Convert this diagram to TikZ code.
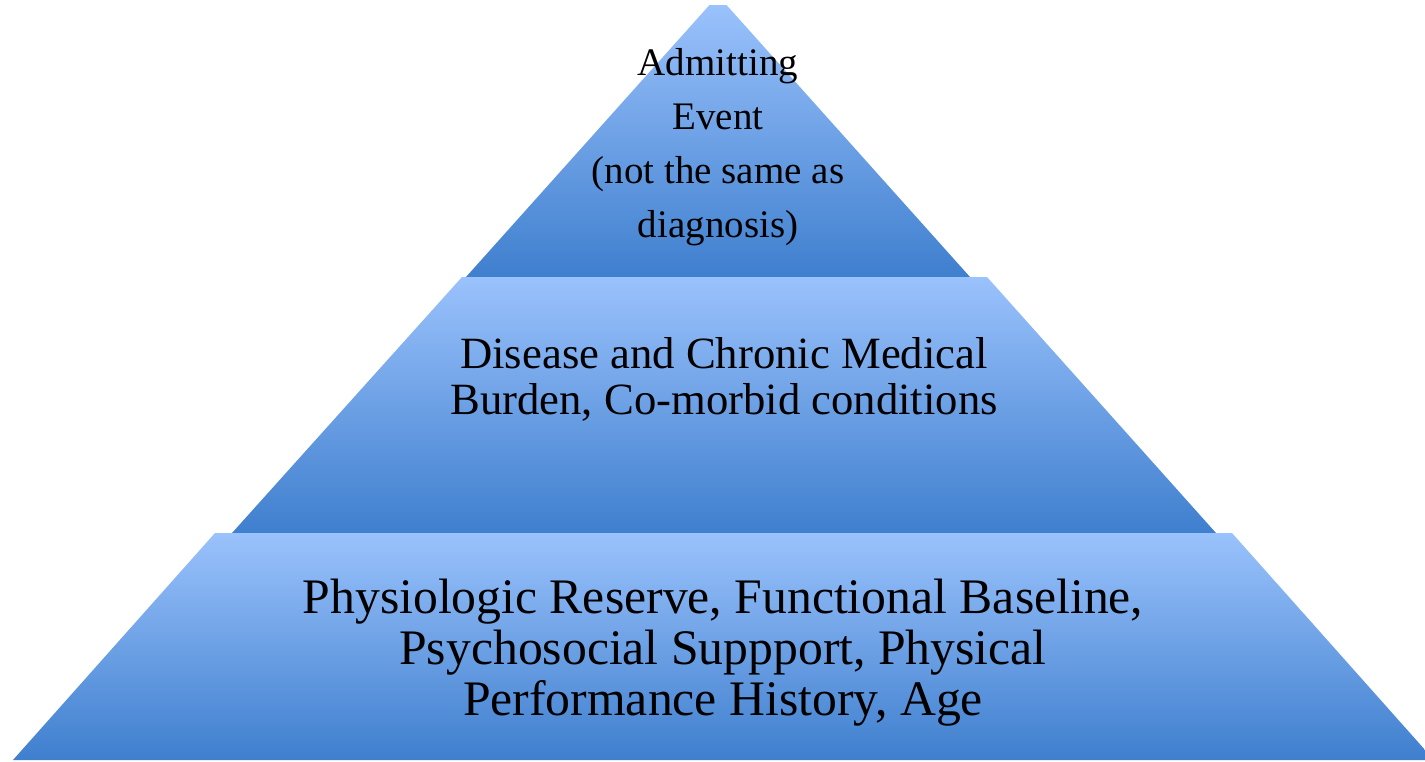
\documentclass[tikz,border=0pt]{standalone}
\usepackage{fontspec}
\setmainfont{Liberation Serif}
\definecolor{tierTop}{HTML}{9AC2FC}
\definecolor{tierBot}{HTML}{3F7FCE}
\begin{document}
\begin{tikzpicture}[x=1pt,y=-1pt,
  tier/.style={top color=tierTop,bottom color=tierBot,draw=none},
  label/.style={align=center,text=black,inner sep=0pt}]
\useasboundingbox (0,0) rectangle (1425,761);
\begin{scope}
\clip (0,0) rectangle (1425,761);
% three stacked tiers of the pyramid
\path[tier] (709.5,5) -- (726.5,5) -- (970,277) -- (466,277) -- cycle;
\path[tier] (462,277) -- (987,277) -- (1216,533) -- (232,533) -- cycle;
\path[tier] (215,533) -- (1232,533) -- (1434,760) -- (13,760) -- cycle;
\end{scope}
\node[label,font=\fontsize{39}{54}\selectfont] (apex) at (718,147)
  {Admitting\\Event\\(not the same as\\diagnosis)};
\node[label,font=\fontsize{44.7}{46}\selectfont] (middle) at (724,379)
  {Disease and Chronic Medical\\Burden, Co-morbid conditions};
\node[label,font=\fontsize{49.7}{51}\selectfont] (base) at (723,653)
  {Physiologic Reserve, Functional Baseline,\\Psychosocial Suppport, Physical\\Performance History, Age};
\end{tikzpicture}
\end{document}
